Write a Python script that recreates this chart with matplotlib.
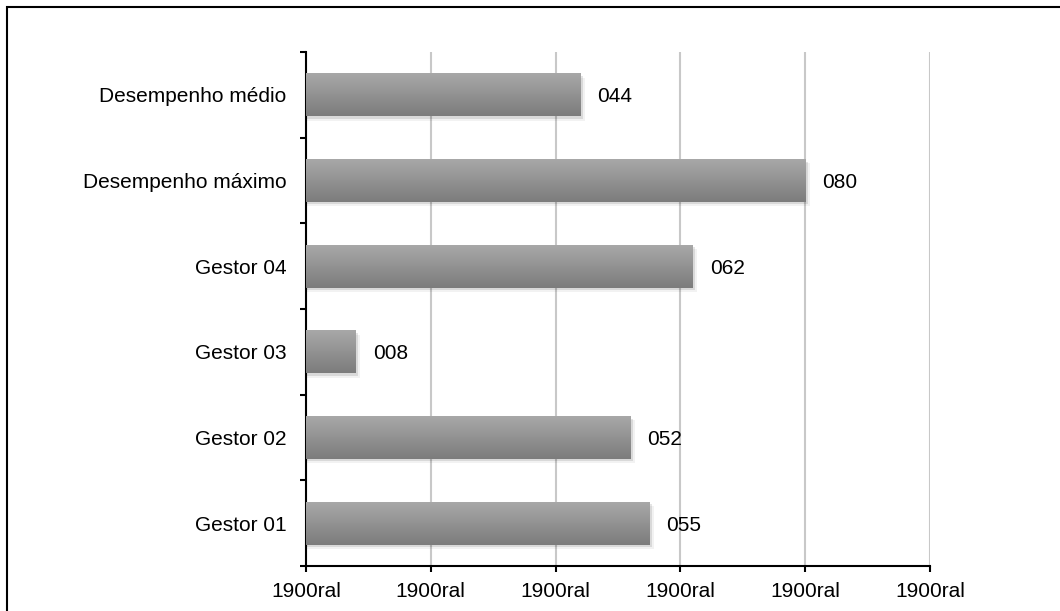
import matplotlib
matplotlib.use("Agg")
import matplotlib.pyplot as plt
import numpy as np
from matplotlib.patches import Rectangle
from matplotlib.colors import LinearSegmentedColormap

categories = ["Gestor 01", "Gestor 02", "Gestor 03", "Gestor 04",
              "Desempenho máximo", "Desempenho médio"]
values = [55, 52, 8, 62, 80, 44]
xticks = [0, 20, 40, 60, 80, 100]
xtick_labels = ["1900ral"] * 6

plt.rcParams['font.family'] = ['Liberation Sans', 'DejaVu Sans']

fig = plt.figure(figsize=(10.6, 6.11), dpi=100)
ax = fig.add_axes([306/1060, 1-566/611, (930-306)/1060, (566-52)/611])

cmap = LinearSegmentedColormap.from_list("g", ["#a8a8a8", "#7c7c7c"])
grad = np.linspace(0, 1, 64).reshape(-1, 1)
h = 0.5
for i, v in enumerate(values):
    # soft shadow
    ax.barh(i - 0.03, v + 0.4, height=h, color="#000000", alpha=0.10, zorder=2, linewidth=0)
    ax.barh(i - 0.05, v + 0.7, height=h, color="#000000", alpha=0.05, zorder=2, linewidth=0)
    ax.imshow(grad, extent=[0, v, i - h/2, i + h/2], aspect='auto', cmap=cmap,
              origin='upper', zorder=3, interpolation='bilinear')
    ax.text(v + 2.7, i - 0.025, f"{v:03d}", va='center', ha='left', fontsize=15,
            color='black', zorder=4)

ax.set_xlim(0, 100)
ax.set_ylim(-0.5, len(categories) - 0.5)
ax.set_aspect('auto')

ax.set_xticks(xticks)
ax.set_xticklabels(xtick_labels, fontsize=15)
ax.set_yticks(np.arange(-0.5, len(categories), 1.0))
ax.set_yticklabels([])
ax.set_yticks(np.arange(len(categories)), minor=True)
ax.set_yticklabels(categories, minor=True, fontsize=15)
ax.tick_params(axis='y', which='major', direction='out', length=4, width=1.5)
ax.tick_params(axis='y', which='minor', length=0, pad=14)
ax.tick_params(axis='x', direction='out', length=4, width=1.5, pad=7.5)

ax.xaxis.grid(True, color='#c8c8c8', linewidth=1.5, zorder=0)
ax.set_axisbelow(True)
for s in ['top', 'right']:
    ax.spines[s].set_visible(False)
for s in ['left', 'bottom']:
    ax.spines[s].set_linewidth(1.5)

fig.patches.append(Rectangle((7/1060, -0.5), 2, 1.5 - 7/611, transform=fig.transFigure,
                             fill=False, edgecolor='black', linewidth=1.5))

fig.savefig("out.png", dpi=100)
